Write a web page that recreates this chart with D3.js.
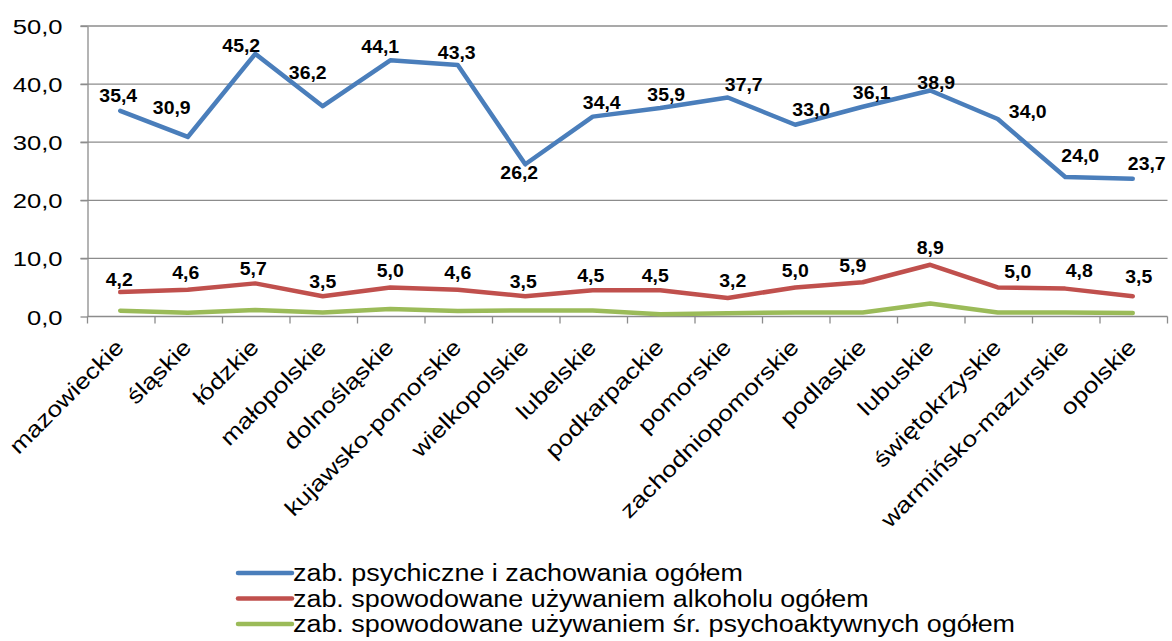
<!DOCTYPE html>
<html>
<head>
<meta charset="utf-8">
<script src="https://cdn.jsdelivr.net/npm/d3@7"></script>
<style>
  body { margin: 0; background: #fff; }
  svg { display: block; font-family: "Liberation Sans", Arial, sans-serif; }
</style>
</head>
<body>
<div id="chart"></div>
<script>
// data
var regions = ["mazowieckie", "śląskie", "łódzkie", "małopolskie", "dolnośląskie",
  "kujawsko-pomorskie", "wielkopolskie", "lubelskie", "podkarpackie", "pomorskie",
  "zachodniopomorskie", "podlaskie", "lubuskie", "świętokrzyskie", "warmińsko-mazurskie", "opolskie"];

var psychiczne = [35.4, 30.9, 45.2, 36.2, 44.1, 43.3, 26.2, 34.4, 35.9, 37.7, 33.0, 36.1, 38.9, 34.0, 24.0, 23.7];
var alkohol = [4.2, 4.6, 5.7, 3.5, 5.0, 4.6, 3.5, 4.5, 4.5, 3.2, 5.0, 5.9, 8.9, 5.0, 4.8, 3.5];
var psychoaktywne = [1.0, 0.65, 1.1, 0.7, 1.3, 0.95, 1.05, 1.05, 0.4, 0.55, 0.7, 0.7, 2.25, 0.7, 0.7, 0.6];

var yTicks = [0, 10, 20, 30, 40, 50];

var seriesNames = ["zab. psychiczne i zachowania ogółem",
  "zab. spowodowane używaniem alkoholu ogółem",
  "zab. spowodowane używaniem śr. psychoaktywnych ogółem"];

// label nudges (px) for the value labels, as they sit in the original
var blueNudge = [[-2,-15],[-16,-29],[-14,-8],[-15,-34],[-10,-14],[-1,-12],[-6,8],[9,-14],
  [6,-13],[16,-13],[16,-15],[9,-14],[6,-8],[30,-7],[15,-22],[14,-15]];
var redNudge = [[-1,-13],[-2,-17],[-2,-15],[0,-15],[0,-17],[0,-17],[-2,-15],[-2,-15],
  [-5,-15],[5,-17],[0,-17],[-10,-17],[0,-17],[20,-16],[14,-18],[6,-20]];

var width = 1172, height = 641;
var plotLeft = 87.5, plotRight = 1167.5, plotTop = 26, plotBottom = 316.5;
var colors = ["#4a7ebb", "#c0504d", "#9bbb59"];
var gridColor = "#8c8c8c";

var fmt = function(v) { return d3.format(".1f")(v).replace(".", ","); };

var svg = d3.select("#chart").append("svg")
  .attr("width", width)
  .attr("height", height);

var x = d3.scaleBand().domain(regions).range([plotLeft, plotRight]);
var y = d3.scaleLinear().domain([0, 50]).range([plotBottom, plotTop]);
var cx = function(i) { return x(regions[i]) + x.bandwidth() / 2 - 1; };

// gridlines
svg.append("g").selectAll("line")
  .data(yTicks.filter(function(d) { return d > 0; }))
  .enter().append("line")
  .attr("x1", plotLeft - 7).attr("x2", plotRight)
  .attr("y1", function(d) { return y(d); })
  .attr("y2", function(d) { return y(d); })
  .attr("stroke", gridColor)
  .attr("stroke-width", 1.3);

// y axis
var yAxis = svg.append("g")
  .attr("transform", "translate(" + plotLeft + ",0)")
  .call(d3.axisLeft(y).tickValues(yTicks).tickSize(7).tickSizeOuter(0).tickFormat(fmt));
yAxis.select(".domain").attr("stroke", gridColor).attr("stroke-width", 1.3);
yAxis.selectAll(".tick line").attr("stroke", gridColor).attr("stroke-width", 1.3);
yAxis.selectAll(".tick text")
  .attr("x", 0)
  .attr("dy", "0.36em")
  .attr("transform", "translate(-25,0) scale(1.22,1)")
  .attr("fill", "#000")
  .style("font-size", "21px")
  .style("font-family", "Liberation Sans, Arial, sans-serif");

// x axis
svg.append("line")
  .attr("x1", plotLeft).attr("x2", plotRight)
  .attr("y1", plotBottom).attr("y2", plotBottom)
  .attr("stroke", gridColor).attr("stroke-width", 1.3);

var edges = regions.map(function(d) { return x(d); }).concat([plotRight]);
svg.append("g").selectAll("line")
  .data(edges)
  .enter().append("line")
  .attr("x1", function(d) { return d; })
  .attr("x2", function(d) { return d; })
  .attr("y1", plotBottom).attr("y2", plotBottom + 7)
  .attr("stroke", gridColor).attr("stroke-width", 1.3);

svg.append("g").selectAll("text")
  .data(regions)
  .enter().append("text")
  .attr("transform", function(d, i) {
    return "translate(" + (cx(i) + 5) + "," + (plotBottom + 32) + ") rotate(-45) scale(1.2,1)";
  })
  .attr("text-anchor", "end")
  .style("font-size", "22px")
  .attr("fill", "#000")
  .text(function(d) { return d; });

// lines
var series = [psychiczne, alkohol, psychoaktywne];
var line = d3.line()
  .x(function(d, i) { return cx(i); })
  .y(function(d) { return y(d); });

svg.append("g").selectAll("path")
  .data(series)
  .enter().append("path")
  .attr("d", function(d) { return line(d); })
  .attr("fill", "none")
  .attr("stroke", function(d, i) { return colors[i]; })
  .attr("stroke-width", 4.5)
  .attr("stroke-linejoin", "round")
  .attr("stroke-linecap", "round");

// value labels
var drawLabels = function(values, nudge) {
  svg.append("g").selectAll("text")
    .data(values)
    .enter().append("text")
    .attr("transform", function(d, i) {
      return "translate(" + (cx(i) + nudge[i][0]) + "," + (y(d) + nudge[i][1]) + ") scale(1.08,1)";
    })
    .attr("dy", "0.36em")
    .attr("text-anchor", "middle")
    .style("font-size", "18px")
    .style("font-weight", "bold")
    .attr("fill", "#000")
    .text(function(d) { return fmt(d); });
};
drawLabels(psychiczne, blueNudge);
drawLabels(alkohol, redNudge);

// legend
var legend = svg.append("g").attr("transform", "translate(238,573)");
var item = legend.selectAll("g")
  .data(seriesNames)
  .enter().append("g")
  .attr("transform", function(d, i) { return "translate(0," + (i * 25.5) + ")"; });
item.append("line")
  .attr("x1", 0).attr("x2", 54)
  .attr("y1", 0).attr("y2", 0)
  .attr("stroke", function(d, i) { return colors[i]; })
  .attr("stroke-width", 4.5)
  .attr("stroke-linecap", "round");
item.append("text")
  .attr("transform", "translate(55,0) scale(1.17,1)")
  .attr("dy", "0.35em")
  .style("font-size", "23px")
  .attr("fill", "#000")
  .text(function(d) { return d; });
</script>
</body>
</html>
